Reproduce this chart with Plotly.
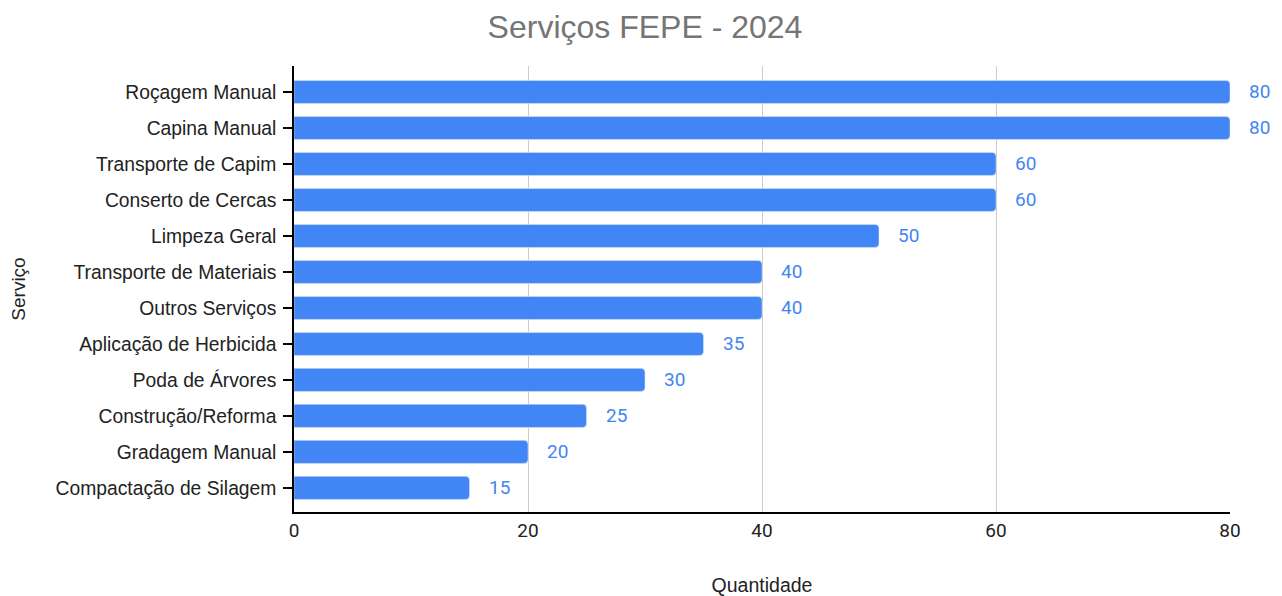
import plotly.graph_objects as go

servicos = ["Roçagem Manual", "Capina Manual", "Transporte de Capim", "Conserto de Cercas",
            "Limpeza Geral", "Transporte de Materiais", "Outros Serviços", "Aplicação de Herbicida",
            "Poda de Árvores", "Construção/Reforma", "Gradagem Manual", "Compactação de Silagem"]
quantidade = [80, 80, 60, 60, 50, 40, 40, 35, 30, 25, 20, 15]
x_ticks = [0, 20, 40, 60, 80]

cats = servicos[::-1]
vals = quantidade[::-1]

BLUE = "#4285F4"
ARIAL = "Liberation Sans, Arial"
ROBOTO = "Roboto, Arial"
fig = go.Figure()
fig.add_trace(go.Bar(y=cats, x=vals, orientation="h", marker_color=BLUE, width=0.64,
                     hoverinfo="x+y"))

for c, v in zip(cats, vals):
    fig.add_annotation(x=v, y=c, text=str(v), showarrow=False, xanchor="left",
                       xshift=17, font=dict(family=ROBOTO, size=19, color=BLUE))

fig.update_layout(
    width=1274, height=588,
    margin=dict(l=286, r=52, t=58, b=84),
    paper_bgcolor="white", plot_bgcolor="white",
    barcornerradius=4,
    showlegend=False,
    title=dict(text="Serviços FEPE - 2024", x=0.5, xanchor="center", y=0.968, yanchor="middle",
               font=dict(family=ARIAL, size=32, color="#757575")),
    xaxis=dict(range=[0, 80], tickvals=x_ticks, showgrid=True, gridcolor="#cccccc", gridwidth=1,
               zeroline=False, showline=True, linecolor="black", linewidth=1.5, automargin=False,
               tickfont=dict(family=ROBOTO, size=19, color="#222222"),
               title=dict(text="Quantidade", font=dict(family=ARIAL, size=19.5, color="#222222"),
                          standoff=43)),
    yaxis=dict(range=[-0.67, 11.72], showgrid=False, showline=True, linecolor="black", linewidth=1.5,
               ticks="outside", ticklen=9, tickcolor="black", tickwidth=1.5, ticklabelstandoff=3,
               automargin=False,
               tickfont=dict(family=ARIAL, size=19.3, color="#222222"),
               title=dict(text="Serviço", font=dict(family=ARIAL, size=19, color="#222222"),
                          standoff=28)),
)
fig.write_html("out.html")
